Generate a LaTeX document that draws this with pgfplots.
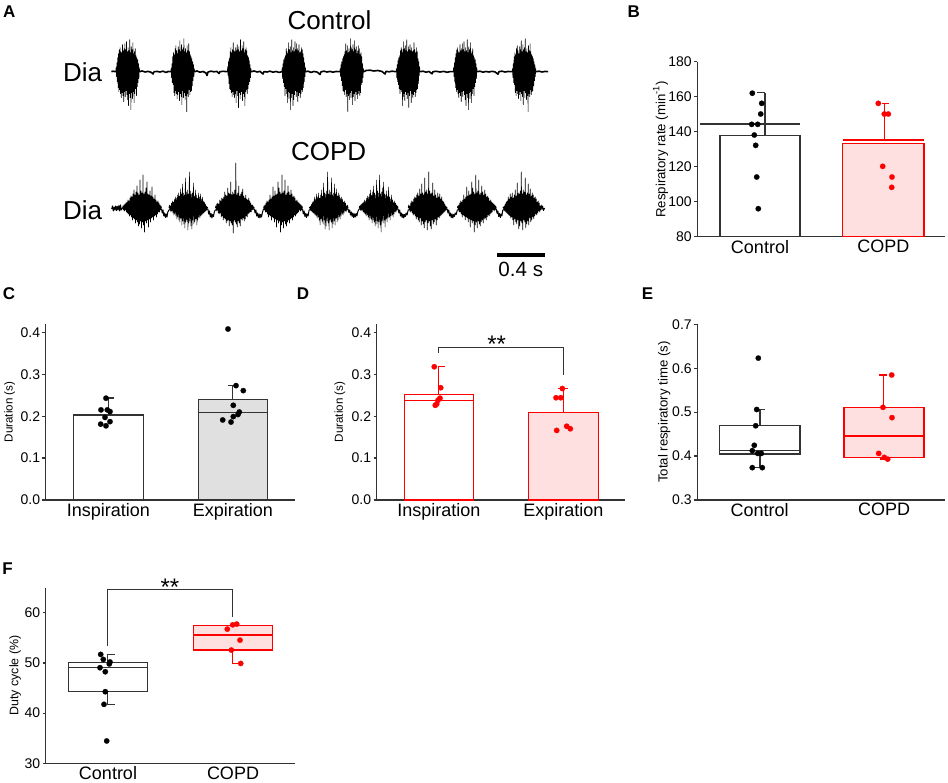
\documentclass[border=0pt]{standalone}
\usepackage{pgfplots}
\pgfplotsset{compat=1.18}
\usepackage{pgfplotstable}
\usepackage{fontspec}
\setmainfont{Liberation Sans}
\definecolor{axc}{HTML}{333333}
\definecolor{pinkf}{HTML}{FFE0E0}
\definecolor{grayf}{HTML}{E0E0E0}
\definecolor{rd}{HTML}{FF0000}

% burst templates (px offsets from baseline)
\pgfplotstableread[row sep=\\,header=false]{0\\4\\-5\\9\\-10\\14\\-16\\18\\-20\\22\\-18\\24\\-22\\20\\-26\\19\\-21\\27\\-24\\21\\-30\\23\\-20\\28\\-25\\22\\-19\\30\\-23\\20\\-28\\24\\-34\\21\\-22\\32\\-26\\19\\-38\\25\\-21\\22\\-27\\29\\-20\\18\\-31\\20\\-22\\23\\-17\\16\\-24\\14\\-15\\12\\-11\\8\\-7\\4\\0\\}\tCA
\pgfplotstableread[row sep=\\,header=false]{0\\3\\-6\\8\\-11\\15\\-13\\19\\-21\\17\\-24\\23\\-19\\26\\-22\\21\\-27\\18\\-23\\25\\-20\\22\\-29\\31\\-22\\20\\-25\\27\\-33\\22\\-19\\24\\-26\\33\\-21\\20\\-28\\23\\-24\\19\\-40\\26\\-22\\21\\-25\\28\\-18\\20\\-23\\17\\-20\\15\\-19\\13\\-14\\10\\-9\\7\\-5\\3\\0\\}\tCB
\pgfplotstableread[row sep=\\,header=false]{0\\5\\-4\\10\\-12\\13\\-17\\20\\-18\\24\\-21\\19\\-25\\22\\-20\\29\\-23\\21\\-26\\20\\-22\\24\\-31\\21\\-19\\27\\-24\\22\\-36\\25\\-21\\20\\-27\\32\\-23\\21\\-20\\26\\-29\\23\\-22\\30\\-25\\19\\-34\\22\\-20\\24\\-18\\21\\-22\\16\\-17\\14\\-13\\11\\-10\\7\\-6\\3\\0\\}\tCC
\pgfplotstableread[row sep=\\,header=false]{0\\2\\-2\\3\\-3\\4\\-2\\5\\-4\\6\\-5\\8\\-6\\7\\-8\\10\\-7\\12\\-9\\11\\-12\\14\\-10\\18\\-11\\13\\-15\\16\\-12\\22\\-14\\15\\-18\\13\\-16\\28\\-13\\17\\-20\\15\\-14\\33\\-17\\14\\-24\\16\\-13\\20\\-15\\26\\-12\\14\\-19\\13\\-11\\17\\-14\\12\\-10\\21\\-9\\11\\-12\\9\\-8\\13\\-7\\8\\-9\\6\\-6\\7\\-4\\5\\-4\\3\\-2\\2\\0\\}\tPA
\pgfplotstableread[row sep=\\,header=false]{0\\3\\-2\\2\\-4\\5\\-3\\7\\-5\\6\\-7\\9\\-6\\11\\-8\\10\\-11\\13\\-9\\15\\-12\\12\\-14\\19\\-10\\14\\-17\\24\\-13\\15\\-16\\13\\-20\\30\\-14\\16\\-12\\18\\-22\\14\\-15\\36\\-13\\17\\-18\\14\\-21\\15\\-12\\25\\-16\\12\\-14\\18\\-11\\13\\-17\\10\\-12\\15\\-9\\11\\-10\\14\\-8\\9\\-7\\11\\-6\\7\\-5\\6\\-4\\4\\-3\\2\\-2\\1\\0\\}\tPB
\pgfplotstableread[row sep=\\,header=false]{0\\2\\-3\\4\\-2\\5\\-5\\4\\-6\\8\\-5\\7\\-9\\10\\-8\\9\\-12\\11\\-10\\16\\-11\\13\\-15\\12\\-13\\20\\-12\\15\\-18\\14\\-13\\26\\-15\\13\\-17\\16\\-25\\14\\-12\\18\\-14\\45\\-16\\13\\-19\\15\\-13\\22\\-15\\12\\-18\\14\\-11\\16\\-12\\19\\-10\\12\\-13\\10\\-11\\13\\-8\\9\\-9\\8\\-6\\10\\-5\\7\\-4\\5\\-4\\3\\-2\\3\\-1\\1\\0\\}\tPC

\pgfplotsset{
  panel/.style={
    scale only axis, clip=false,
    axis x line*=bottom, axis y line*=left,
    axis line style={line width=0.75pt, draw=axc},
    tick align=outside, major tick length=1.6pt,
    tick style={line width=0.6pt, draw=axc},
    xtick style={draw=none},
    yticklabel style={font=\fontsize{7}{8}\selectfont, inner sep=1pt},
    xticklabel style={font=\fontsize{9}{10}\selectfont, inner sep=1.5pt, yshift=1.6pt},
    /pgf/number format/assume math mode=true,
    ylabel style={at={(axis description cs:#1,0.5)}, anchor=center},
  },
  bk/.style={line width=0.7pt, draw=axc},
  rdl/.style={line width=0.7pt, draw=rd},
  dotk/.style={only marks, mark=*, mark size=1.35pt, mark options={fill=black, draw=black, line width=0.1pt}},
  dotr/.style={only marks, mark=*, mark size=1.35pt, mark options={fill=rd, draw=rd, line width=0.1pt}},
  tr/.style={line width=0.3pt, black, line join=round},
  trb/.style={line width=0.8pt, black, line join=round},
  trn/.style={line width=0.5pt, black, line join=round},
}

\begin{document}
\begin{tikzpicture}
\useasboundingbox (0,0) rectangle (474pt,391pt);

% ---------------- Panel A (traces) ----------------
\begin{axis}[scale only axis, width=474pt, height=391pt, xmin=0, xmax=948, ymin=0, ymax=782,
  hide axis, clip=false, at={(0pt,0pt)}, anchor=south west]
% Control baseline
\addplot[trb] coordinates {(111.4,710.3)(113,710.8)(115.7,710.3)
(139.7,710.3)(142,711)(145,710)(148,710.6)(151,709.8)(153,708)(154,710.2)(157,710.6)(160,710)(163,710.8)(166,709.5)(168,710.5)(170.7,710.3)
(194.7,710.3)(197,711)(200,709.8)(203,710.5)(206,709)(207,706.5)(208,710)(211,710.8)(214,710.2)(217,710.6)(219,708.5)(220,710.3)(223,710.7)(227.3,710.3)
(251.3,710.3)(254,711)(257,710)(260,710.6)(263,708)(264,710.4)(267,710)(270,710.8)(273,709.8)(276,710.5)(279,709.6)(281.8,710.3)
(305.8,710.3)(308,710.8)(311,709.6)(314,710.5)(317,710)(320,707.5)(321,710.2)(324,710.8)(327,710)(330,710.6)(333,709.8)(336,710.5)(339.8,710.3)
(363.8,710.3)(366,711.5)(370,711.8)(374,711)(378,711.5)(382,710.5)(385,708)(386,710.6)(389,710.2)(392,710.8)(396,710.3)
(420,710.3)(423,710.8)(426,709.8)(429,710.5)(432,708.2)(433,710.3)(436,710.7)(440,710)(444,710.6)(447,709.7)(450,710.4)(453.2,710.3)
(477.2,710.3)(480,710.8)(483,709.8)(486,710.5)(489,710)(492,710.7)(495,710.1)(498,707.8)(499,710.4)(502,710.8)(505,710)(508,710.5)(512.1,710.3)
(536.1,710.3)(539,710.8)(542,710)(545,710.6)(548.2,710.3)};
% Control bursts
\addplot[tr] table[x index=0, y index=0, x expr=127.7+\coordindex*0.4-12, y expr=710.3+\thisrowno{0}] {\tCA};
\addplot[tr] table[x index=0, y index=0, x expr=182.7+\coordindex*0.4-12, y expr=710.3+\thisrowno{0}] {\tCB};
\addplot[tr] table[x index=0, y index=0, x expr=239.3+\coordindex*0.4-12, y expr=710.3+\thisrowno{0}] {\tCC};
\addplot[tr] table[x index=0, y index=0, x expr=293.8-\coordindex*0.4+12, y expr=710.3+\thisrowno{0}] {\tCA};
\addplot[tr] table[x index=0, y index=0, x expr=351.8-\coordindex*0.4+12, y expr=710.3+\thisrowno{0}] {\tCB};
\addplot[tr] table[x index=0, y index=0, x expr=408.0-\coordindex*0.4+12, y expr=710.3+\thisrowno{0}] {\tCC};
\addplot[tr] table[x index=0, y index=0, x expr=465.2+\coordindex*0.4-12, y expr=710.3+\thisrowno{0}] {\tCA};
\addplot[tr] table[x index=0, y index=0, x expr=524.1+\coordindex*0.4-12, y expr=710.3+\thisrowno{0}] {\tCB};
% COPD baseline (noisy, dips between bursts)
\addplot[trn] coordinates {(111.7,573)(112.5,576)(113.3,571)(114.1,575)(114.9,572)(115.7,576)(116.5,571.5)(117.3,575.5)(118.1,572)(118.9,576.5)(119.7,571)(120.5,577)(121.3,572)(122.5,574)
(161.5,573)(162.3,569)(163,572)(163.8,566)(164.6,569)(165.4,564.5)(166.2,568)(167,565)(167.8,570)(168.9,572)
(207.9,573)(208.7,568)(209.5,571)(210.3,565)(211.1,568.5)(211.9,564)(212.7,567.5)(213.5,565.5)(214.3,570)(215.3,572)
(254.3,573)(255.1,569)(255.9,572)(256.7,566)(257.5,569)(258.3,564.5)(259.1,568)(259.9,564)(260.7,567.5)(261.5,565)(262.3,569)(263.5,573)
(302.5,573)(303.3,568)(304.1,571)(304.9,565.5)(305.7,568.5)(306.5,564.5)(307.3,568)(308.1,566)(309.1,572)
(348.1,573)(348.9,569.5)(349.7,572)(350.5,567)(351.3,570)(352.1,565.5)(352.9,569)(353.7,564.5)(354.5,568)(355.3,565)(356.1,568.5)(356.9,566)(357.7,570)(359.1,573)
(398.1,573)(398.9,569)(399.7,572)(400.5,566)(401.3,569)(402.1,564.5)(402.9,568)(403.7,564)(404.5,567.5)(405.3,565.5)(406.1,569)(407,567)(408.2,572)
(447.2,573)(448,569)(448.8,572)(449.6,566)(450.4,569)(451.2,564.5)(452,568)(452.8,564)(453.6,567.5)(454.4,565.5)(455.2,569)(456.2,567.5)(457.3,572)
(496.3,573)(497.1,568.5)(497.9,571)(498.7,565.5)(499.5,568.5)(500.3,564.5)(501.1,568)(501.9,566)(502.8,572)
(541.8,573)(542.6,576)(543.4,571.5)(544.6,574)};
% COPD bursts
\addplot[tr] table[x index=0, y index=0, x expr=142.0+\coordindex*0.5-19.5, y expr=574+\thisrowno{0}] {\tPA};
\addplot[tr] table[x index=0, y index=0, x expr=188.4+\coordindex*0.5-19.5, y expr=574+\thisrowno{0}] {\tPB};
\addplot[tr] table[x index=0, y index=0, x expr=234.8+\coordindex*0.5-19.5, y expr=574+\thisrowno{0}] {\tPC};
\addplot[tr] table[x index=0, y index=0, x expr=283.0-\coordindex*0.5+19.5, y expr=574+\thisrowno{0}] {\tPA};
\addplot[tr] table[x index=0, y index=0, x expr=328.6-\coordindex*0.5+19.5, y expr=574+\thisrowno{0}] {\tPB};
\addplot[tr] table[x index=0, y index=0, x expr=378.6+\coordindex*0.5-19.5, y expr=574+\thisrowno{0}] {\tPA};
\addplot[tr] table[x index=0, y index=0, x expr=427.7+\coordindex*0.5-19.5, y expr=574+\thisrowno{0}] {\tPB};
\addplot[tr] table[x index=0, y index=0, x expr=476.8-\coordindex*0.5+19.5, y expr=574+\thisrowno{0}] {\tPA};
\addplot[tr] table[x index=0, y index=0, x expr=522.3-\coordindex*0.5+19.5, y expr=574+\thisrowno{0}] {\tPB};
% scale bar
\addplot[line width=1.7pt, black] coordinates {(496.7,527)(545,527)};
\node[anchor=base, inner sep=0pt, font=\fontsize{10.3}{12}\selectfont] at (axis cs:520.8,505) {0.4 s};
% titles and labels
\node[inner sep=0pt, font=\fontsize{13}{15}\selectfont] at (axis cs:329.5,762) {Control};
\node[inner sep=0pt, font=\fontsize{13}{15}\selectfont] at (axis cs:328.6,630.3) {COPD};
\node[anchor=base east, inner sep=0pt, font=\fontsize{13}{15}\selectfont] at (axis cs:102.5,700.3) {Dia};
\node[anchor=base east, inner sep=0pt, font=\fontsize{13}{15}\selectfont] at (axis cs:102.5,562) {Dia};
% panel letters
\node[inner sep=0pt, font=\bfseries\fontsize{8.5}{10}\selectfont] at (axis cs:9.3,770) {A};
\node[inner sep=0pt, font=\bfseries\fontsize{8.5}{10}\selectfont] at (axis cs:633.7,770.8) {B};
\node[inner sep=0pt, font=\bfseries\fontsize{8.5}{10}\selectfont] at (axis cs:9,488) {C};
\node[inner sep=0pt, font=\bfseries\fontsize{8.5}{10}\selectfont] at (axis cs:303,488) {D};
\node[inner sep=0pt, font=\bfseries\fontsize{8.5}{10}\selectfont] at (axis cs:647.5,488) {E};
\node[inner sep=0pt, font=\bfseries\fontsize{8.5}{10}\selectfont] at (axis cs:7.5,213.7) {F};
\end{axis}

% ---------------- Panel B ----------------
\begin{axis}[panel=-0.148, at={(348.65pt,272.65pt)}, anchor=south west,
  width=123.85pt, height=87.5pt, xmin=697.3, xmax=945, ymin=80, ymax=180,
  ytick={80,100,120,140,160,180}, xtick={760,883.3}, xticklabels={Control,COPD},
  ylabel={Respiratory rate (min\textsuperscript{-1})},
  ylabel style={font=\fontsize{6.6}{7.5}\selectfont}]
\addplot[bk, fill=white] coordinates {(720,80)(720,137.7)(800,137.7)(800,80)} -- cycle;
\addplot[bk] coordinates {(700,144.4)(800,144.4)};
\addplot[bk] coordinates {(765,137.7)(765,162.3)};
\addplot[bk] coordinates {(756.7,162.3)(765,162.3)};
\addplot[dotk] coordinates {(752.3,162)(761.7,156.2)(760.7,150.1)(751.7,144.2)(757.7,144.2)(754.3,138.1)(755.7,132.2)(756.7,114.1)(758.3,96)};
\addplot[rdl, fill=pinkf] coordinates {(842.7,80)(842.7,133.3)(924,133.3)(924,80)} -- cycle;
\addplot[rdl] coordinates {(842.7,135.2)(924,135.2)};
\addplot[rdl] coordinates {(884.3,135.2)(884.3,156.2)};
\addplot[rdl] coordinates {(881.7,156.2)(889.3,156.2)};
\addplot[dotr] coordinates {(878.3,156.2)(884.3,150.1)(888.3,150.1)(882.7,120.2)(892,114.1)(891.7,108.2)};
\end{axis}

% ---------------- Panel C ----------------
\begin{axis}[panel=-0.145, at={(22.85pt,141pt)}, anchor=south west,
  width=124.65pt, height=88pt, xmin=45.7, xmax=295, ymin=0, ymax=0.42,
  ytick={0,0.1,0.2,0.3,0.4}, xtick={108.3,232.8}, xticklabels={Inspiration,Expiration},
  /pgf/number format/fixed, /pgf/number format/fixed zerofill, /pgf/number format/precision=1,
  ylabel={Duration (s)}, ylabel style={font=\fontsize{5.8}{7}\selectfont}]
\addplot[bk, fill=white] coordinates {(73.3,0)(73.3,0.2028)(143.3,0.2028)(143.3,0)} -- cycle;
\addplot[bk] coordinates {(73.3,0.2012)(143.3,0.2012)};
\addplot[bk] coordinates {(108.3,0.2028)(108.3,0.2433)};
\addplot[bk] coordinates {(106,0.2433)(114.3,0.2433)};
\addplot[dotk] coordinates {(106,0.243)(101,0.215)(107.3,0.215)(110,0.211)(105,0.197)(110,0.187)(100.7,0.181)(106,0.177)};
\addplot[bk, fill=grayf] coordinates {(198.3,0)(198.3,0.240)(267.3,0.240)(267.3,0)} -- cycle;
\addplot[bk] coordinates {(198.3,0.209)(267.3,0.209)};
\addplot[bk] coordinates {(232.3,0.240)(232.3,0.273)};
\addplot[bk] coordinates {(227.7,0.273)(237.3,0.273)};
\addplot[dotk] coordinates {(228,0.408)(236,0.273)(243.3,0.261)(233.3,0.226)(239.3,0.210)(238,0.204)(233.3,0.199)(222.7,0.191)(231,0.186)};
\end{axis}

% ---------------- Panel D ----------------
\begin{axis}[panel=-0.148, at={(188.35pt,141pt)}, anchor=south west,
  width=124.15pt, height=88pt, xmin=376.7, xmax=625, ymin=0, ymax=0.42,
  ytick={0,0.1,0.2,0.3,0.4}, xtick={438.8,563.3}, xticklabels={Inspiration,Expiration},
  /pgf/number format/fixed, /pgf/number format/fixed zerofill, /pgf/number format/precision=1,
  ylabel={Duration (s)}, ylabel style={font=\fontsize{5.8}{7}\selectfont}]
\addplot[rdl, fill=white] coordinates {(404.3,0)(404.3,0.252)(473.3,0.252)(473.3,0)} -- cycle;
\addplot[rdl] coordinates {(404.3,0.237)(473.3,0.237)};
\addplot[rdl] coordinates {(438.3,0.252)(438.3,0.318)};
\addplot[rdl] coordinates {(438.3,0.318)(445,0.318)};
\addplot[dotr] coordinates {(434.3,0.318)(440.7,0.268)(440,0.243)(438,0.238)(436.7,0.229)(435.3,0.226)};
\addplot[rdl, fill=pinkf] coordinates {(528.3,0)(528.3,0.209)(598.3,0.209)(598.3,0)} -- cycle;
\addplot[rdl] coordinates {(563.3,0.209)(563.3,0.266)};
\addplot[rdl] coordinates {(558.3,0.266)(568.3,0.266)};
\addplot[dotr] coordinates {(556,0.244)(560.7,0.244)(562.3,0.266)(556.7,0.166)(566.7,0.176)(570.3,0.170)};
\addplot[line width=0.6pt, draw=axc] coordinates {(438.3,0.350)(438.3,0.364)(563.3,0.364)(563.3,0.298)};
\node[inner sep=0pt, font=\fontsize{12}{14}\selectfont] at (axis cs:496.7,0.372) {**};
\end{axis}

% ---------------- Panel E ----------------
\begin{axis}[panel=-0.134, at={(348.65pt,141pt)}, anchor=south west,
  width=123.85pt, height=87.85pt, xmin=697.3, xmax=945, ymin=0.3, ymax=0.7,
  ytick={0.3,0.4,0.5,0.6,0.7}, xtick={759.7,884}, xticklabels={Control,COPD},
  /pgf/number format/fixed, /pgf/number format/fixed zerofill, /pgf/number format/precision=1,
  ylabel={Total respiratory time (s)}, ylabel style={font=\fontsize{6.6}{7.5}\selectfont}]
\addplot[bk, fill=white] coordinates {(719.3,0.4047)(719.3,0.469)(800,0.469)(800,0.4047)} -- cycle;
\addplot[bk] coordinates {(719.3,0.4123)(800,0.4123)};
\addplot[bk] coordinates {(760,0.469)(760,0.506)};
\addplot[bk] coordinates {(755,0.506)(765,0.506)};
\addplot[bk] coordinates {(760,0.4047)(760,0.3736)};
\addplot[bk] coordinates {(753.3,0.3736)(764,0.3736)};
\addplot[dotk] coordinates {(758.3,0.623)(756.7,0.506)(755.7,0.469)(754.3,0.4245)(752.3,0.4123)(757.7,0.406)(761.3,0.406)(752.3,0.3736)(762.3,0.3736)};
\addplot[rdl, fill=pinkf] coordinates {(844,0.397)(844,0.511)(924,0.511)(924,0.397)} -- cycle;
\addplot[rdl] coordinates {(844,0.4457)(924,0.4457)};
\addplot[rdl] coordinates {(883.3,0.511)(883.3,0.5846)};
\addplot[rdl] coordinates {(879.3,0.5846)(886.7,0.5846)};
\addplot[rdl] coordinates {(883.3,0.397)(883.3,0.393)};
\addplot[rdl] coordinates {(880,0.393)(888,0.393)};
\addplot[dotr] coordinates {(891.7,0.5846)(883,0.511)(892,0.4875)(878.7,0.406)(884.3,0.397)(887.7,0.393)};
\end{axis}

% ---------------- Panel F ----------------
\begin{axis}[panel=-0.122, at={(22.85pt,9.35pt)}, anchor=south west,
  width=124.65pt, height=87.8pt, xmin=45.7, xmax=295, ymin=30, ymax=65,
  ytick={30,40,50,60}, xtick={108,233}, xticklabels={Control,COPD},
  ylabel={Duty cycle (\%)}, ylabel style={font=\fontsize{6.2}{7.5}\selectfont}]
\addplot[bk, fill=white] coordinates {(68.3,44.27)(68.3,50.1)(147.7,50.1)(147.7,44.27)} -- cycle;
\addplot[bk] coordinates {(68.3,49.05)(147.7,49.05)};
\addplot[bk] coordinates {(107.3,50.1)(107.3,51.7)};
\addplot[bk] coordinates {(107.3,51.7)(115,51.7)};
\addplot[bk] coordinates {(107.3,44.27)(107.3,41.75)};
\addplot[bk] coordinates {(107.3,41.75)(115,41.75)};
\addplot[dotk] coordinates {(100.7,51.7)(103.3,50.7)(110,50.2)(109.3,49.8)(100,49.05)(105.3,48.25)(105.3,44.27)(104,41.75)(106.7,34.45)};
\addplot[rdl, fill=pinkf] coordinates {(193.3,52.57)(193.3,57.48)(272.7,57.48)(272.7,52.57)} -- cycle;
\addplot[rdl] coordinates {(193.3,55.55)(272.7,55.55)};
\addplot[rdl] coordinates {(232.3,52.57)(232.3,49.9)};
\addplot[rdl] coordinates {(232.3,49.9)(240.7,49.9)};
\addplot[dotr] coordinates {(227.3,56.75)(232.7,57.6)(236.7,57.75)(240,54.55)(231.3,52.57)(240.7,49.9)};
\addplot[line width=0.6pt, draw=axc] coordinates {(107.3,53.4)(107.3,64.65)(232.3,64.65)(232.3,59.2)};
\node[inner sep=0pt, font=\fontsize{12}{14}\selectfont] at (axis cs:170,65.1) {**};
\end{axis}
\end{tikzpicture}
\end{document}
